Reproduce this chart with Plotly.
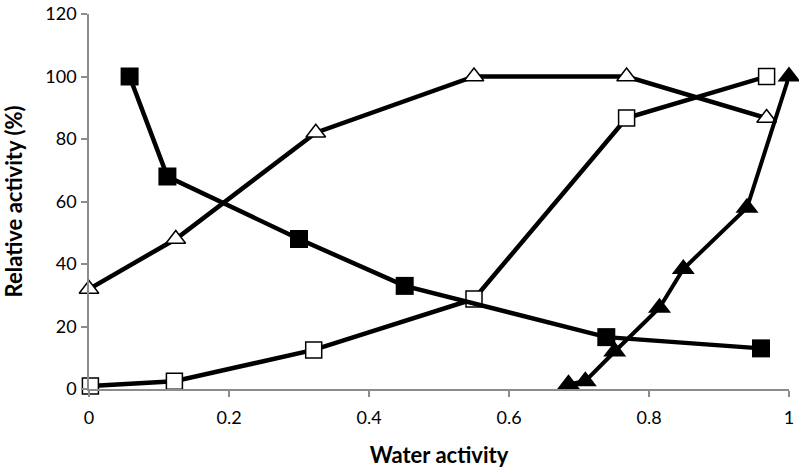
import plotly.graph_objects as go

# Data
fsq_x = [0.058, 0.112, 0.30, 0.451, 0.739, 0.96]
fsq_y = [100, 68, 48, 33, 16.6, 13]

otri_x = [0.0, 0.124, 0.324, 0.55, 0.768, 0.968]
otri_y = [32, 48, 82, 100, 100, 86.7]

osq_x = [0.002, 0.122, 0.321, 0.55, 0.768, 0.968]
osq_y = [1, 2.5, 12.5, 28.8, 86.7, 100]

ftri_x = [0.685, 0.709, 0.751, 0.815, 0.849, 0.94, 1.0]
ftri_y = [1.5, 2.5, 12, 26, 38.4, 58, 100]

x_ticks = [0, 0.2, 0.4, 0.6, 0.8, 1]
x_labels = ["0", "0.2", "0.4", "0.6", "0.8", "1"]
y_ticks = [0, 20, 40, 60, 80, 100, 120]

fig = go.Figure()
fig.add_trace(go.Scatter(x=otri_x, y=otri_y, mode="lines+markers",
    line=dict(color="black", width=4.5),
    marker=dict(symbol="triangle-up", size=17, color="white", line=dict(color="black", width=1.5)),
    cliponaxis=False))
fig.add_trace(go.Scatter(x=osq_x, y=osq_y, mode="lines+markers",
    line=dict(color="black", width=4.5),
    marker=dict(symbol="square", size=16, color="white", line=dict(color="black", width=1.5)),
    cliponaxis=False))
fig.add_trace(go.Scatter(x=fsq_x, y=fsq_y, mode="lines+markers",
    line=dict(color="black", width=4.5),
    marker=dict(symbol="square", size=18, color="black"),
    cliponaxis=False))
fig.add_trace(go.Scatter(x=ftri_x, y=ftri_y, mode="lines+markers",
    line=dict(color="black", width=4),
    marker=dict(symbol="triangle-up", size=20, color="black"),
    cliponaxis=False))

font_family = "Lato, Open Sans, sans-serif"
fig.update_layout(
    width=799, height=468,
    margin=dict(l=89, r=10, t=14, b=79),
    paper_bgcolor="white", plot_bgcolor="white",
    showlegend=False,
    font=dict(family=font_family, color="black", size=18),
    xaxis=dict(range=[0, 1], tickvals=x_ticks, ticktext=x_labels, automargin=False,
               showgrid=False, zeroline=False, showline=True, linecolor="#8c8c8c", linewidth=1.5,
               ticks="outside", ticklen=6, tickcolor="#8c8c8c", tickwidth=1.5,
               tickfont=dict(size=18), ticklabelstandoff=6,
               title=dict(text="<b>Water activity</b>", font=dict(size=22), standoff=21)),
    yaxis=dict(range=[0, 120], tickvals=y_ticks, automargin=False,
               showgrid=False, zeroline=False, showline=True, linecolor="#8c8c8c", linewidth=1.5,
               ticks="outside", ticklen=6, tickcolor="#8c8c8c", tickwidth=1.5,
               tickfont=dict(size=18), ticklabelstandoff=1,
               title=dict(text="<b>Relative activity (%)</b>", font=dict(size=22), standoff=18)),
)

# Remove the default 8px page margin so the figure fills the window exactly.
fig.write_html("out.html", config={"displayModeBar": False},
               post_script="document.body.style.margin='0';document.body.style.overflow='hidden';")
